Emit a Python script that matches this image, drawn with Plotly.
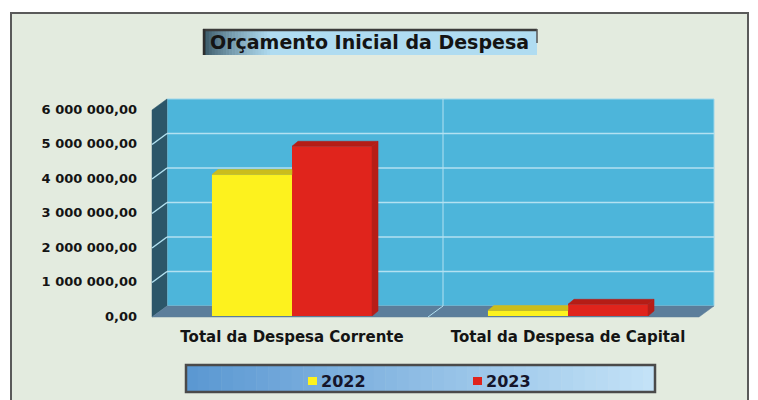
import plotly.graph_objects as go

# ---------------- data ----------------
categories = ["Total da Despesa Corrente", "Total da Despesa de Capital"]
series_names = ["2022", "2023"]
values_2022 = [4_100_000, 160_000]
values_2023 = [4_920_000, 340_000]
tick_values = [0, 1_000_000, 2_000_000, 3_000_000, 4_000_000, 5_000_000, 6_000_000]
tick_labels = ["0,00", "1 000 000,00", "2 000 000,00", "3 000 000,00",
               "4 000 000,00", "5 000 000,00", "6 000 000,00"]
title_text = "Orçamento Inicial da Despesa"

# ---------------- layout geometry (pixels) ----------------
W, H = 758, 400
AX_L, AX_R = 154, 706          # axis plane (bar front faces)
AX_T, AX_B = 109, 316
Y_MAX = tick_values[-1]
X_RANGE = [-0.5, len(categories) - 0.5]
FONT = "DejaVu Sans"

front_colors = ["#fdf21e", "#e0241c"]
top_colors = ["#cbbd1c", "#b51d16"]
side_colors = ["#c9c01a", "#b71d17"]
series_values = [values_2022, values_2023]

BAR_W = 0.29
OFFSETS = [-BAR_W, 0.0]

ux = (X_RANGE[1] - X_RANGE[0]) / (AX_R - AX_L)   # x units per px
uy = Y_MAX / (AX_B - AX_T)                        # y units per px
DDX = 6 * ux
DDY = 5 * uy


def PX(x):
    return (x - AX_L) / (AX_R - AX_L)


def PY(y):
    return (AX_B - y) / (AX_B - AX_T)


def path(points):
    return "M " + " L ".join(f"{PX(x):.5f},{PY(y):.5f}" for x, y in points) + " Z"


# wall geometry
FL, FB = 152, 317         # front-left x, front-bottom y
DX, DY = 15, -11          # depth offset
BR = 714                  # back wall right
k = (AX_B - AX_T) / Y_MAX  # px per value


def yf(v):
    return FB - v * k


def yb(v):
    return FB + DY - v * k


shapes = []
# outer frame / background
shapes.append(dict(type="rect", xref="paper", yref="paper", layer="below",
                   x0=PX(11), x1=PX(748), y0=PY(13), y1=PY(402),
                   fillcolor="#e3ebdf", line=dict(color="#5a5a5a", width=2)))
# back wall
shapes.append(dict(type="rect", xref="paper", yref="paper", layer="below",
                   x0=PX(FL + DX), x1=PX(BR), y0=PY(yb(Y_MAX)), y1=PY(yb(0)),
                   fillcolor="#4db5da", line=dict(color="#9fd6ea", width=1)))
# left wall
shapes.append(dict(type="path", xref="paper", yref="paper", layer="below",
                   path=path([(FL, yf(Y_MAX)), (FL + DX, yb(Y_MAX)), (FL + DX, yb(0)), (FL, yf(0))]),
                   fillcolor="#2c5669", line=dict(color="#2c5669", width=0.5)))
# floor
shapes.append(dict(type="path", xref="paper", yref="paper", layer="below",
                   path=path([(FL, yf(0)), (FL + DX, yb(0)), (BR, yb(0)), (BR - DX, yf(0))]),
                   fillcolor="#5c7e9b", line=dict(color="#5c7e9b", width=0.5)))
# gridlines on back and left wall
for v in tick_values[1:-1]:
    shapes.append(dict(type="line", xref="paper", yref="paper", layer="below",
                       x0=PX(FL + DX), x1=PX(BR), y0=PY(yb(v)), y1=PY(yb(v)),
                       line=dict(color="#b3e1f1", width=1.5)))
    shapes.append(dict(type="line", xref="paper", yref="paper", layer="below",
                       x0=PX(FL), x1=PX(FL + DX), y0=PY(yf(v)), y1=PY(yb(v)),
                       line=dict(color="#b3e1f1", width=1.5)))
# category divider
xdiv_front = AX_L + (0.5 - X_RANGE[0]) / ux - 2
shapes.append(dict(type="line", xref="paper", yref="paper", layer="below",
                   x0=PX(xdiv_front + DX), x1=PX(xdiv_front + DX), y0=PY(yb(Y_MAX)), y1=PY(yb(0)),
                   line=dict(color="#b3e1f1", width=1)))
shapes.append(dict(type="line", xref="paper", yref="paper", layer="below",
                   x0=PX(xdiv_front), x1=PX(xdiv_front + DX), y0=PY(yf(0)), y1=PY(yb(0)),
                   line=dict(color="#b3e1f1", width=1)))


def hex_mix(c1, c2, t):
    a = [int(c1[i:i + 2], 16) for i in (1, 3, 5)]
    b = [int(c2[i:i + 2], 16) for i in (1, 3, 5)]
    return "#" + "".join(f"{round(a[i] + (b[i] - a[i]) * t):02x}" for i in range(3))


# title box with gradient
TB = (203, 29, 537, 55)
shapes.append(dict(type="rect", xref="paper", yref="paper", layer="below",
                   x0=PX(TB[0]), x1=PX(TB[2]), y0=PY(TB[1]), y1=PY(TB[3]),
                   fillcolor="#b0dcf1", line=dict(width=0)))
n = 24
gx0, gx1 = TB[0], TB[0] + 70
for i in range(n):
    t = i / (n - 1)
    shapes.append(dict(type="rect", xref="paper", yref="paper", layer="below",
                       x0=PX(gx0 + (gx1 - gx0) * i / n), x1=PX(gx0 + (gx1 - gx0) * (i + 1) / n + 0.5),
                       y0=PY(TB[1]), y1=PY(TB[3]),
                       fillcolor=hex_mix("#33505f", "#b0dcf1", t ** 0.7), line=dict(width=0)))
shapes.append(dict(type="line", xref="paper", yref="paper", layer="below",
                   x0=PX(TB[0]), x1=PX(TB[2]), y0=PY(TB[1] + 1), y1=PY(TB[1] + 1),
                   line=dict(color="#3b3b3b", width=2.5)))
shapes.append(dict(type="line", xref="paper", yref="paper", layer="below",
                   x0=PX(TB[0] + 1), x1=PX(TB[0] + 1), y0=PY(TB[1]), y1=PY(TB[3]),
                   line=dict(color="#2e2e2e", width=2.5)))
shapes.append(dict(type="line", xref="paper", yref="paper", layer="below",
                   x0=PX(TB[2]), x1=PX(TB[2]), y0=PY(TB[1]), y1=PY(TB[1] + 14),
                   line=dict(color="#555555", width=1.5)))

# legend box with gradient
LB = (186, 365, 655, 392)
n = 40
for i in range(n):
    t = i / (n - 1)
    shapes.append(dict(type="rect", xref="paper", yref="paper", layer="below",
                       x0=PX(LB[0] + (LB[2] - LB[0]) * i / n),
                       x1=PX(LB[0] + (LB[2] - LB[0]) * (i + 1) / n + 0.5),
                       y0=PY(LB[1]), y1=PY(LB[3]),
                       fillcolor=hex_mix("#5b98d2", "#c3e2f7", t), line=dict(width=0)))
shapes.append(dict(type="rect", xref="paper", yref="paper", layer="below",
                   x0=PX(LB[0]), x1=PX(LB[2]), y0=PY(LB[1]), y1=PY(LB[3]),
                   line=dict(color="#4a4a4a", width=2.5)))
legend_pos = [308, 473]
annotations = []
for i, name in enumerate(series_names):
    lx = legend_pos[i]
    shapes.append(dict(type="rect", xref="paper", yref="paper",
                       x0=PX(lx), x1=PX(lx + 9), y0=PY(377), y1=PY(385),
                       fillcolor=front_colors[i], line=dict(width=0)))
    annotations.append(dict(xref="paper", yref="paper", x=PX(lx + 11), y=PY(381),
                            xanchor="left", yanchor="middle", showarrow=False,
                            text=name, font=dict(family=FONT, size=16, color="#15152a", weight="bold")))

annotations.append(dict(xref="paper", yref="paper", x=PX(369), y=PY(42.5),
                        xanchor="center", yanchor="middle", showarrow=False,
                        text=title_text, font=dict(family=FONT, size=19, color="#141414", weight="bold")))

# ---------------- traces ----------------
fig = go.Figure()
xs = list(range(len(categories)))
for i, name in enumerate(series_names):
    fig.add_trace(go.Bar(x=xs, y=series_values[i], name=name, width=BAR_W, offset=OFFSETS[i],
                         marker=dict(color=front_colors[i], line=dict(width=0)),
                         hovertext=categories, showlegend=False))

for i, name in enumerate(series_names):
    for j in xs:
        v = series_values[i][j]
        x0 = j + OFFSETS[i]
        x1 = x0 + BAR_W
        taller_right = i + 1 < len(series_names) and series_values[i + 1][j] >= v
        if taller_right:
            top = [(x0, v), (x1, v), (x1, v + DDY), (x0 + DDX, v + DDY)]
        else:
            top = [(x0, v), (x1, v), (x1 + DDX, v + DDY), (x0 + DDX, v + DDY)]
            side = [(x1, 0), (x1 + DDX, DDY), (x1 + DDX, v + DDY), (x1, v)]
            fig.add_trace(go.Scatter(x=[p[0] for p in side] + [side[0][0]],
                                     y=[p[1] for p in side] + [side[0][1]],
                                     mode="lines", fill="toself", fillcolor=side_colors[i],
                                     line=dict(width=0.5, color=side_colors[i]),
                                     hoverinfo="skip", showlegend=False))
        fig.add_trace(go.Scatter(x=[p[0] for p in top] + [top[0][0]],
                                 y=[p[1] for p in top] + [top[0][1]],
                                 mode="lines", fill="toself", fillcolor=top_colors[i],
                                 line=dict(width=0.5, color=top_colors[i]),
                                 hoverinfo="skip", showlegend=False))

fig.update_layout(
    width=W, height=H,
    margin=dict(l=AX_L, r=W - AX_R, t=AX_T, b=H - AX_B, pad=0),
    paper_bgcolor="#ffffff", plot_bgcolor="rgba(0,0,0,0)",
    barmode="overlay", showlegend=False,
    shapes=shapes, annotations=annotations,
    font=dict(family=FONT, color="#141414"),
)
fig.update_xaxes(range=X_RANGE, tickvals=xs, ticktext=categories, showgrid=False,
                 zeroline=False, showline=False, ticks="", ticklabelstandoff=10,
                 tickfont=dict(family=FONT, size=15, color="#141414", weight="bold"), fixedrange=True)
fig.update_yaxes(range=[0, Y_MAX], tickvals=tick_values, ticktext=tick_labels, showgrid=False,
                 zeroline=False, showline=False, ticks="", ticklabelstandoff=16,
                 tickfont=dict(family=FONT, size=13, color="#141414", weight="bold"), fixedrange=True)

fig.write_html("out.html", config={"displayModeBar": False},
               post_script="document.body.style.margin='0px';document.body.style.overflow='hidden';")
